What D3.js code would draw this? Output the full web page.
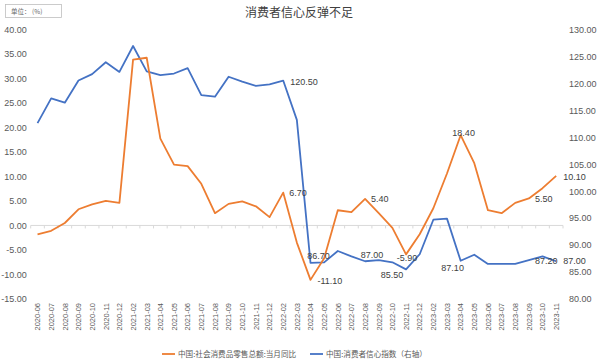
<!DOCTYPE html>
<html><head><meta charset="utf-8">
<script src="https://cdn.jsdelivr.net/npm/d3@7"></script>
<style>
html,body{margin:0;padding:0;background:#fff;}
svg{display:block;font-family:"Liberation Sans","Noto Sans CJK SC",sans-serif;}
</style></head>
<body><svg id="c" width="600" height="364"></svg>
<script>
const categories = ["2020-06","2020-07","2020-08","2020-09","2020-10","2020-11","2020-12",
"2021-02","2021-03","2021-04","2021-05","2021-06","2021-07","2021-08","2021-09","2021-10","2021-11","2021-12",
"2022-02","2022-03","2022-04","2022-05","2022-06","2022-07","2022-08","2022-09","2022-10","2022-11","2022-12",
"2023-02","2023-03","2023-04","2023-05","2023-06","2023-07","2023-08","2023-09","2023-10","2023-11"];
const retailYoY = [-1.8,-1.1,0.5,3.3,4.3,5.0,4.6,
33.8,34.2,17.7,12.4,12.1,8.5,2.5,4.4,4.9,3.9,1.7,
6.7,-3.5,-11.1,-6.7,3.1,2.7,5.4,2.5,-0.5,-5.9,-1.8,
3.5,10.6,18.4,12.7,3.1,2.5,4.6,5.5,7.6,10.1];
const confidence = [112.6,117.2,116.4,120.5,121.7,123.9,122.1,
126.9,122.2,121.5,121.8,122.8,117.8,117.5,121.2,120.3,119.5,119.8,
120.5,113.2,86.7,86.8,88.9,87.9,87.0,87.2,86.8,85.5,88.3,
94.7,94.9,87.1,88.2,86.5,86.5,86.5,87.2,87.9,87.0];
const leftTicks = [40,35,30,25,20,15,10,5,0,-5,-10,-15];
const rightTicks = [130,125,120,115,110,105,100,95,90,85,80];
const seriesNames = ["中国:社会消费品零售总额:当月同比","中国:消费者信心指数（右轴）"];
const title = "消费者信心反弹不足";
const unitText = "单位： (%)";
// labelled points: [index, dx, dy, anchor]
const retailLabels = [[18,6,0,"start"],[20,7,1,"start"],[24,6,0,"start"],[27,1,3,"middle"],[31,3,-2,"middle"],[36,6,0,"start"],[38,7,1,"start"]];
const confLabels = [[18,7,1,"start"],[20,8,-7,"middle"],[24,7,-6,"middle"],[27,-14,5,"middle"],[31,-8,7,"middle"],[36,6,1,"start"],[38,7,0,"start"]];

const fmt = d => (+d).toFixed(2);
const svg = d3.select("#c");
const pTop = 29.3, pBottom = 299, pLeft = 30.7, pRight = 563;
const x = d3.scaleBand().domain(categories).range([pLeft,pRight]);
const yL = d3.scaleLinear().domain([-15,40]).range([pBottom,pTop]);
const yR = d3.scaleLinear().domain([80,130]).range([pBottom,pTop]);
const cx = c => x(c) + x.bandwidth()/2;
const orange = "#ED7D31", blue = "#4472C4", txt = "#595959";

// title
svg.append("text").attr("x",299).attr("y",17).attr("text-anchor","middle")
  .attr("font-size",12).attr("fill","#404040").attr("font-family","Noto Sans CJK SC").text(title);
// unit box
svg.append("rect").attr("x",5.5).attr("y",4.5).attr("width",56).attr("height",13)
  .attr("fill","#fff").attr("stroke","#bfbfbf").attr("stroke-width",0.8);
svg.append("text").attr("x",11).attr("y",13.5).attr("font-size",6.5).attr("fill","#666")
  .attr("font-family","Noto Sans CJK SC").text(unitText);

// left axis
const gL = svg.append("g").attr("transform",`translate(${pLeft},0)`)
  .call(d3.axisLeft(yL).tickValues(leftTicks).tickSize(0).tickPadding(4).tickFormat(fmt));
gL.select(".domain").remove();
gL.selectAll("text").attr("font-size",9).attr("fill",txt).attr("font-family","Liberation Sans");
// right axis
const gR = svg.append("g").attr("transform",`translate(${pRight+2},0)`)
  .call(d3.axisRight(yR).tickValues(rightTicks).tickSize(0).tickPadding(4).tickFormat(fmt));
gR.select(".domain").remove();
gR.selectAll("text").attr("font-size",9).attr("fill",txt).attr("font-family","Liberation Sans");

// zero line with category ticks
const y0 = yL(0);
svg.append("line").attr("x1",pLeft).attr("x2",pRight).attr("y1",y0).attr("y2",y0)
  .attr("stroke","#d9d9d9").attr("stroke-width",1);
svg.append("g").selectAll("line").data(categories.concat(["end"])).join("line")
  .attr("x1",(d,i)=>pLeft+i*x.step()).attr("x2",(d,i)=>pLeft+i*x.step())
  .attr("y1",y0).attr("y2",y0+3).attr("stroke","#d9d9d9");

// bottom category labels
svg.append("g").selectAll("text").data(categories).join("text")
  .attr("transform",d=>`translate(${cx(d)+2.8},${pBottom+4}) rotate(-90)`)
  .attr("text-anchor","end").attr("font-size",7.5).attr("fill",txt).text(d=>d);

// lines
const lineL = d3.line().x((d,i)=>cx(categories[i])).y(d=>yL(d));
const lineR = d3.line().x((d,i)=>cx(categories[i])).y(d=>yR(d));
svg.append("path").datum(confidence).attr("d",lineR).attr("fill","none")
  .attr("stroke",blue).attr("stroke-width",1.8).attr("stroke-linejoin","round");
svg.append("path").datum(retailYoY).attr("d",lineL).attr("fill","none")
  .attr("stroke",orange).attr("stroke-width",1.8).attr("stroke-linejoin","round");

// data labels
function labels(spec, vals, scale){
  svg.append("g").selectAll("text").data(spec).join("text")
    .attr("x",d=>cx(categories[d[0]])+d[1]).attr("y",d=>scale(vals[d[0]])+d[2]+3.2)
    .attr("text-anchor",d=>d[3]).attr("font-size",9).attr("fill","#404040")
    .text(d=>fmt(vals[d[0]]));
}
labels(confLabels, confidence, yR);
labels(retailLabels, retailYoY, yL);

// legend
const lg = svg.append("g").attr("transform","translate(162,354)");
const items = [{n:seriesNames[0],c:orange,x:0},{n:seriesNames[1],c:blue,x:148}];
items.forEach(it=>{
  lg.append("line").attr("x1",it.x).attr("x2",it.x+13).attr("y1",0).attr("y2",0)
    .attr("stroke",it.c).attr("stroke-width",1.8);
  lg.append("text").attr("x",it.x+16).attr("y",3).attr("font-size",7.6).attr("fill",txt)
    .attr("font-family","Noto Sans CJK SC").text(it.n);
});
</script></body></html>
